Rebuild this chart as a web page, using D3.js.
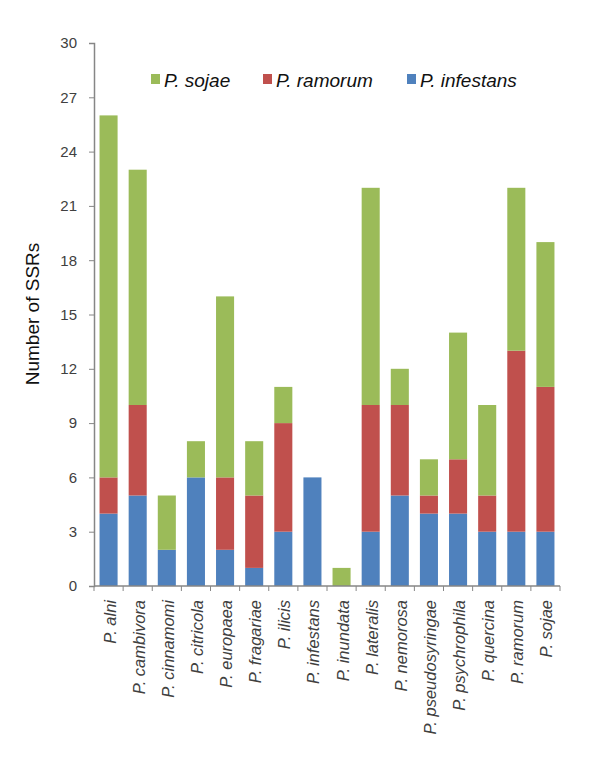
<!DOCTYPE html>
<html><head><meta charset="utf-8">
<script src="https://cdn.jsdelivr.net/npm/d3@7"></script>
<style>body{margin:0;background:#fff;} svg{display:block;font-family:"Liberation Sans",Arial,sans-serif;}</style>
</head><body>
<svg id="c" width="600" height="780"></svg>
<script>
const categories = ["P. alni","P. cambivora","P. cinnamomi","P. citricola","P. europaea","P. fragariae","P. ilicis","P. infestans","P. inundata","P. lateralis","P. nemorosa","P. pseudosyringae","P. psychrophila","P. quercina","P. ramorum","P. sojae"];
const infestans = [4,5,2,6,2,1,3,6,0,3,5,4,4,3,3,3];
const ramorum   = [2,5,0,0,4,4,6,0,0,7,5,1,3,2,10,8];
const sojae     = [20,13,3,2,10,3,2,0,1,12,2,2,7,5,9,8];
const seriesNames = ["P. infestans","P. ramorum","P. sojae"];
const legendOrder = ["P. sojae","P. ramorum","P. infestans"];
const colors = {"P. infestans":"#4F81BD","P. ramorum":"#C0504D","P. sojae":"#9BBB59"};
const yTicks = [0,3,6,9,12,15,18,21,24,27,30];

const svg = d3.select("#c");
const m = {l:94, r:560, t:43, b:586};
const x = d3.scaleBand().domain(categories).range([m.l, m.r]).paddingInner(0.38).paddingOuter(0.19);
const xb = d3.scaleBand().domain(categories).range([m.l, m.r]);
const y = d3.scaleLinear().domain([0,30]).range([m.b, m.t]);

const rows = categories.map((c,i)=>({cat:c,"P. infestans":infestans[i],"P. ramorum":ramorum[i],"P. sojae":sojae[i]}));
const stack = d3.stack().keys(seriesNames)(rows);

svg.append("g").selectAll("g").data(stack).join("g")
  .attr("fill", d=>colors[d.key])
  .selectAll("rect").data(d=>d).join("rect")
  .attr("x", d=>x(d.data.cat))
  .attr("width", x.bandwidth())
  .attr("y", d=>y(d[1]))
  .attr("height", d=>y(d[0])-y(d[1]));

// y axis
const ya = svg.append("g").attr("transform",`translate(${m.l},0)`)
  .call(d3.axisLeft(y).tickValues(yTicks).tickSize(5).tickPadding(12));
ya.select(".domain").attr("stroke","#868686").attr("stroke-width",1.5);
ya.selectAll(".tick line").attr("stroke","#868686");
ya.selectAll("text").attr("font-size",15).attr("fill","#404040");

// x axis
const xa = svg.append("g").attr("transform",`translate(0,${m.b})`);
xa.append("line").attr("x1",m.l).attr("x2",m.r).attr("stroke","#868686").attr("stroke-width",1.5);
xa.selectAll("line.t").data(categories.concat(["__end"])).join("line").attr("class","t")
  .attr("x1",(d,i)=> i<categories.length ? xb(d) : m.r)
  .attr("x2",(d,i)=> i<categories.length ? xb(d) : m.r)
  .attr("y1",0).attr("y2",5).attr("stroke","#868686");
xa.selectAll("text").data(categories).join("text")
  .attr("transform", d=>`translate(${xb(d)+xb.bandwidth()/2+7},14) rotate(-90)`)
  .attr("text-anchor","end")
  .attr("font-size",16.5).attr("font-style","italic").attr("fill","#404040")
  .text(d=>d);

// y title
svg.append("text").attr("transform","translate(39,314) rotate(-90)")
  .attr("text-anchor","middle").attr("font-size",19).attr("fill","#111")
  .text("Number of SSRs");

// legend
const legX = [151, 263, 407];
const lg = svg.append("g");
legendOrder.forEach((s,i)=>{
  lg.append("rect").attr("x",legX[i]).attr("y",74).attr("width",9).attr("height",10).attr("fill",colors[s]);
  lg.append("text").attr("x",legX[i]+13).attr("y",87).attr("font-size",19).attr("font-style","italic").attr("fill","#111").text(s);
});
</script>
</body></html>
